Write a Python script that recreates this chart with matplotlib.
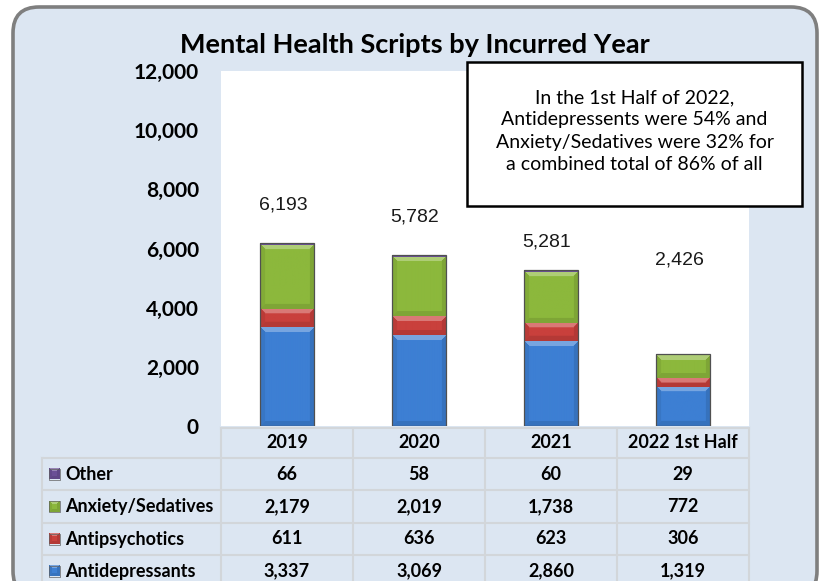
import numpy as np
import matplotlib
matplotlib.use("Agg")
import matplotlib.pyplot as plt
from matplotlib.patches import FancyBboxPatch, Rectangle
from matplotlib.transforms import blended_transform_factory
from matplotlib.colors import to_rgb

# scripts by incurred year, stacked bottom -> top
years = ["2019", "2020", "2021", "2022 1st Half"]
antidepressants = [3337, 3069, 2860, 1319]
antipsychotics = [611, 636, 623, 306]
anxiety_sedatives = [2179, 2019, 1738, 772]
other = [66, 58, 60, 29]

series_names = ["Antidepressants", "Antipsychotics", "Anxiety/Sedatives", "Other"]
series_vals = [antidepressants, antipsychotics, anxiety_sedatives, other]
series_cols = ["#3d7fd3", "#c9403c", "#8cb83c", "#6a4f96"]

totals = [sum(v) for v in zip(*series_vals)]

note = ("In the 1st Half of 2022,\nAntidepressents were 54% and\n"
        "Anxiety/Sedatives were 32% for\na combined total of 86% of all")

W, H = 821, 581
BG = "#dce6f2"
GRID = "#d2d6da"
calibri = ["Lato", "DejaVu Sans"]

fig = plt.figure(figsize=(W / 100, H / 100), dpi=100)
fig.patch.set_facecolor("white")

# background axes in pixel units (y down)
bg = fig.add_axes([0, 0, 1, 1], zorder=-1)
bg.set_xlim(0, W)
bg.set_ylim(H, 0)
bg.axis("off")
bg.add_patch(FancyBboxPatch((13, 7), 804, 590, boxstyle="round,pad=0,rounding_size=26",
                            facecolor=BG, edgecolor="#7f7f7f", linewidth=2.6, zorder=0))

# plot area
ax = fig.add_axes([221 / W, 1 - 426 / H, (749 - 221) / W, (426 - 71) / H], zorder=1)
ax.set_facecolor("white")
for s in ax.spines.values():
    s.set_visible(False)
ax.set_xticks([])
ax.set_yticks(range(0, 12001, 2000))
ax.set_yticklabels([f"{t:,}" for t in range(0, 12001, 2000)],
                   fontsize=15, fontweight="bold", family=calibri)
ax.tick_params(axis="y", length=0, pad=16)

x = np.arange(len(years))
bw = 0.41


def bevel_image(color, wpx, hpx, edge=5):
    # soft bevel: light top edge, slightly darker sides and bottom
    nx, ny = max(int(wpx), 2), max(int(round(hpx)), 2)
    U, V = np.meshgrid(np.arange(nx) + 0.5, np.arange(ny) + 0.5)
    d = np.stack([U, nx - U, ny - V, V])  # left, right, top, bottom (origin lower)
    which = d.argmin(axis=0)
    near = d.min(axis=0) < edge
    base = np.array(to_rgb(color))
    img = np.tile(base, (ny, nx, 1))
    img[near & (which == 2)] = base + (1 - base) * 0.3
    img[near & (which == 3)] = base * 0.9
    img[near & (which == 0)] = base * 0.93
    img[near & (which == 1)] = base * 0.9
    return img


px_per_val = (426 - 71) / 12000
bottom = np.zeros(len(years))
for name, vals, col in zip(series_names, series_vals, series_cols):
    bars = ax.bar(x, vals, bw, bottom=bottom, color=col, linewidth=0, zorder=2, label=name)
    for b, val in zip(bars, vals):
        hpx = val * px_per_val
        if hpx > 6:
            img = bevel_image(col, bw * 132, hpx)
            im = ax.imshow(img, extent=(b.get_x(), b.get_x() + b.get_width(),
                                        b.get_y(), b.get_y() + b.get_height()),
                           origin="lower", aspect="auto", zorder=2.5, interpolation="bilinear")
            im.set_clip_path(b)
    bottom += vals
ax.bar(x, totals, bw, fill=False, edgecolor="#505050", linewidth=0.9, zorder=3)
ax.set_xlim(-0.5, 3.5)
ax.set_ylim(0, 12000)

# total labels
label_lift = [1280, 1285, 940, 3190]
for xi, t, lift in zip(x, totals, label_lift):
    ax.text(xi - 0.03, t + lift, f"{t:,}", ha="center", va="center",
            fontsize=14, family="Liberation Sans", color="#1a1a1a", zorder=4)

# annotation box
px = bg.transData
ax.add_patch(Rectangle((467, 62), 335, 144, transform=px, facecolor="white",
                       edgecolor="black", linewidth=1.8, zorder=5, clip_on=False))
ax.text(634.5, 131, note, transform=px, ha="center", va="center", fontsize=14,
        family=calibri, linespacing=1.36, zorder=6, clip_on=False)

# title
fig.text(415 / W, 1 - 45 / H, "Mental Health Scripts by Incurred Year",
         ha="center", va="center", fontsize=19.5, fontweight="bold", family=calibri)

# data table under the plot
tb = blended_transform_factory(ax.transData, bg.transData)
row_y = [428, 458, 490, 523, 555, 588]
left_px = 42
edges_x = np.arange(len(years) + 1) - 0.5

bg.plot([221, 749], [row_y[0]] * 2, color=GRID, lw=1.5, zorder=1)
for yy in row_y[1:]:
    bg.plot([left_px, 749], [yy] * 2, color=GRID, lw=1.5, zorder=1)
for ex in edges_x:
    ax.plot([ex, ex], [row_y[0], H + 10], transform=tb, color=GRID, lw=1.5,
            clip_on=False, zorder=1)
bg.plot([left_px, left_px], [row_y[1], H + 10], color=GRID, lw=1.5, zorder=1)

tsize = 13
for xi, yr in zip(x, years):
    ax.text(xi, (row_y[0] + row_y[1]) / 2, yr, transform=tb, ha="center", va="center",
            fontsize=tsize, fontweight="bold", family=calibri, clip_on=False)

rows = list(zip(series_names, series_vals, series_cols))[::-1]
for r, (name, vals, col) in enumerate(rows):
    yc = min((row_y[r + 1] + row_y[r + 2]) / 2, 571)
    key = bevel_image(col, 11, 11, edge=3)
    bg.imshow(key, extent=(49, 60, yc + 5.5, yc - 5.5), aspect="auto",
              origin="lower", zorder=3)
    bg.add_patch(Rectangle((49, yc - 5.5), 11, 11, fill=False, edgecolor="#606060",
                           linewidth=0.5, zorder=3.5))
    bg.text(65, yc, name, ha="left", va="center", fontsize=tsize,
            fontweight="bold", family=calibri, zorder=4)
    for xi, v in zip(x, vals):
        ax.text(xi, yc, f"{v:,}", transform=tb, ha="center", va="center",
                fontsize=tsize, fontweight="bold", family=calibri, clip_on=False)
bg.set_xlim(0, W)
bg.set_ylim(H, 0)

fig.savefig("out.png", dpi=100, facecolor="white")
